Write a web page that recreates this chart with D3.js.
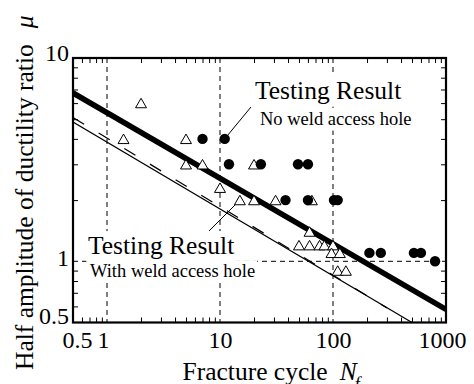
<!DOCTYPE html>
<html>
<head>
<meta charset="utf-8">
<script src="https://cdn.jsdelivr.net/npm/d3@7"></script>
<style>
  html, body { margin: 0; padding: 0; background: #fff; }
  svg { display: block; }
  text { font-family: "Liberation Serif", "Times New Roman", Times, serif; fill: #000; }
</style>
</head>
<body>
<script>
// Fracture cycle vs. half amplitude of ductility ratio (log-log)

// Tick labels
const xTickValues = [0.5, 1, 10, 100, 1000];
const xTickLabels = ["0.5", "1", "10", "100", "1000"];
const yTickValues = [0.5, 1, 10];
const yTickLabels = ["0.5", "1", "10"];

// Specimens without weld access hole (filled circles)
const noHoleN  = [7, 11, 12, 23, 49, 60, 38, 60, 102, 110, 210, 265, 520, 600, 800];
const noHoleMu = [4, 4, 3, 3, 3, 3, 2, 2, 2, 2, 1.1, 1.1, 1.1, 1.1, 1.0];

// Specimens with weld access hole (open triangles)
const withHoleN  = [2, 1.4, 5, 5, 7, 10, 20, 15, 20, 31, 65, 62, 50, 62, 76, 84, 100, 97, 115, 110, 130];
const withHoleMu = [6, 4, 4, 3, 3, 2.3, 3, 2, 2, 2, 2, 1.4, 1.2, 1.2, 1.2, 1.2, 1.2, 1.1, 1.1, 0.9, 0.9];

// Fatigue curves: end points (N, mu)
const curveNoHoleN  = [0.5, 1000];
const curveNoHoleMu = [6.73, 0.58];
const curveWithHoleN  = [0.5, 500];
const curveWithHoleMu = [4.84, 0.5];
const curveDashedN  = [0.5, 300];
const curveDashedMu = [5.1, 0.59];

// Leader lines from a specimen to its label (N, mu pairs)
const leaderUpperN  = [11, 18.8];
const leaderUpperMu = [4, 5.74];
const leaderLowerN  = [15, 8.0];
const leaderLowerMu = [2, 1.41];

const W = 474, H = 384;
const plot = { left: 73, right: 446, top: 58, bottom: 322.5 };

const svg = d3.select("body").append("svg")
  .attr("width", W).attr("height", H);

const x = d3.scaleLog().domain([0.5, 1000]).range([plot.left, plot.right]);
const y = d3.scaleLog().domain([0.5, 10]).range([plot.bottom, plot.top]);

const zip = (a, b) => a.map((v, i) => [v, b[i]]);

// Minor tick positions (2..9 of each decade inside the domain)
const minorX = [];
[0.1, 1, 10, 100].forEach(d => { for (let k = 2; k <= 9; k++) { const v = +(d * k).toPrecision(3); if (v > 0.5 && v < 1000) minorX.push(v); } });
const minorY = [];
[0.1, 1].forEach(d => { for (let k = 2; k <= 9; k++) { const v = +(d * k).toPrecision(3); if (v > 0.5 && v < 10) minorY.push(v); } });

svg.append("defs").append("clipPath").attr("id", "clip")
  .append("rect")
  .attr("x", plot.left).attr("y", plot.top)
  .attr("width", plot.right - plot.left).attr("height", plot.bottom - plot.top);

// Dashed reference lines
const grid = svg.append("g").attr("stroke", "#000").attr("stroke-width", 1).attr("stroke-dasharray", "5,4");
[1, 10, 100].forEach(v => {
  grid.append("line").attr("x1", x(v)).attr("x2", x(v)).attr("y1", plot.top).attr("y2", plot.bottom);
});
grid.append("line").attr("x1", plot.left).attr("x2", plot.right).attr("y1", y(1)).attr("y2", y(1));

// Minor ticks on all four sides, pointing inward
const tickStyle = g => g.call(s => s.select(".domain").remove())
  .selectAll("line").attr("stroke", "#000").attr("stroke-width", 1);
svg.append("g").attr("transform", `translate(0,${plot.bottom})`)
  .call(d3.axisBottom(x).tickValues(minorX).tickSize(-5).tickFormat("")).call(tickStyle);
svg.append("g").attr("transform", `translate(0,${plot.top})`)
  .call(d3.axisTop(x).tickValues(minorX).tickSize(-5).tickFormat("")).call(tickStyle);
svg.append("g").attr("transform", `translate(${plot.left},0)`)
  .call(d3.axisLeft(y).tickValues(minorY).tickSize(-5).tickFormat("")).call(tickStyle);
svg.append("g").attr("transform", `translate(${plot.right},0)`)
  .call(d3.axisRight(y).tickValues(minorY).tickSize(-5).tickFormat("")).call(tickStyle);

// Fatigue curves
const line = d3.line().x(d => x(d[0])).y(d => y(d[1]));
const curves = svg.append("g").attr("clip-path", "url(#clip)").attr("fill", "none").attr("stroke", "#000");
curves.append("path").datum(zip(curveNoHoleN, curveNoHoleMu))
  .attr("d", line).attr("stroke-width", 5.5);
curves.append("path").datum(zip(curveWithHoleN, curveWithHoleMu))
  .attr("d", line).attr("stroke-width", 1.2);
curves.append("path").datum(zip(curveDashedN, curveDashedMu))
  .attr("d", line).attr("stroke-width", 1.2).attr("stroke-dasharray", "13,17");

// Labels with white backing
function label(px, py, lines) {
  const g = svg.append("g");
  lines.forEach(l => {
    const t = g.append("text").attr("x", px + (l.dx || 0)).attr("y", py + l.dy)
      .attr("font-size", l.size).text(l.text);
    const bb = t.node().getBBox();
    g.insert("rect", "text")
      .attr("x", bb.x - 2).attr("width", bb.width + 4)
      .attr("y", py + l.dy - 0.9 * l.size).attr("height", 1.2 * l.size)
      .attr("fill", "#fff");
  });
}
label(255, 99, [
  { text: "Testing Result", size: 25.5, dy: 0 },
  { text: "No weld access hole", size: 18.5, dy: 26, dx: 5 }
]);
label(88, 254, [
  { text: "Testing Result", size: 25.5, dy: 0 },
  { text: "With weld access hole", size: 18.5, dy: 23, dx: 2 }
]);

// Leader lines
const leaders = svg.append("g").attr("stroke", "#000").attr("stroke-width", 1).attr("fill", "none");
leaders.append("path").datum(zip(leaderUpperN, leaderUpperMu)).attr("d", line);
leaders.append("path").datum(zip(leaderLowerN, leaderLowerMu)).attr("d", line);

// Data points
const tri = d3.symbol().type(d3.symbolTriangle).size(52);
svg.append("g").selectAll("path").data(zip(withHoleN, withHoleMu)).join("path")
  .attr("d", tri)
  .attr("transform", d => `translate(${x(d[0])},${y(d[1]) + 1.5})`)
  .attr("fill", "#fff").attr("stroke", "#000").attr("stroke-width", 1);
svg.append("g").selectAll("circle").data(zip(noHoleN, noHoleMu)).join("circle")
  .attr("cx", d => x(d[0])).attr("cy", d => y(d[1])).attr("r", 5.2)
  .attr("fill", "#000");

// Frame
svg.append("rect")
  .attr("x", plot.left).attr("y", plot.top)
  .attr("width", plot.right - plot.left).attr("height", plot.bottom - plot.top)
  .attr("fill", "none").attr("stroke", "#000").attr("stroke-width", 2.2);

// Tick labels
const xLabelShift = [4, -4, 0, 0, -4];
const xAx = svg.append("g").attr("transform", `translate(0,${plot.bottom})`)
  .call(d3.axisBottom(x).tickValues(xTickValues).tickSize(0).tickPadding(8.5)
    .tickFormat((d, i) => xTickLabels[i]));
xAx.select(".domain").remove();
xAx.selectAll("text").attr("font-size", 24).attr("font-family", null)
  .attr("dx", (d, i) => xLabelShift[i]);

const yLabelDy = [1, 4, 2];
const yAx = svg.append("g").attr("transform", `translate(${plot.left},0)`)
  .call(d3.axisLeft(y).tickValues(yTickValues).tickSize(0).tickPadding(4)
    .tickFormat((d, i) => yTickLabels[i]));
yAx.select(".domain").remove();
yAx.selectAll("text").attr("font-size", 24).attr("font-family", null)
  .attr("dy", (d, i) => yLabelDy[i]);

// Axis titles
const xt = svg.append("text").attr("x", 182.5).attr("y", 380).attr("font-size", 25.5);
xt.append("tspan").text("Fracture cycle");
xt.append("tspan").attr("dx", 12).attr("font-style", "italic").text("N");
xt.append("tspan").attr("dx", -2).attr("dy", 10).attr("font-style", "italic").attr("font-size", 18).text("f");

const yt = svg.append("text").attr("transform", "translate(33,370) rotate(-90)").attr("font-size", 25.5);
yt.append("tspan").text("Half amplitude of ductility ratio");
yt.append("tspan").attr("dx", 16).attr("font-style", "italic").text("μ");
</script>
</body>
</html>
